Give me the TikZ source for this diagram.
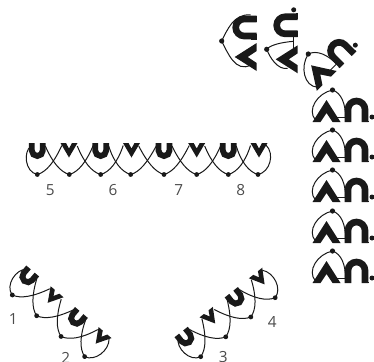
\documentclass[tikz,border=0pt]{standalone}
\usepackage{fontspec}
\setmainfont{Open Sans}
\tikzset{
  x=0.75pt,y=-0.75pt,
  wire/.style={draw=black!90,line width=0.75pt},
  blob/.style={fill=black!90,draw=none},
  heavy/.style={fill=black!90,draw=none},
  bowstroke/.style={draw=black!90,line width=4.4pt,line cap=butt},
  num/.style={text=black!70,font=\fontsize{11.5pt}{12pt}\selectfont,inner sep=0pt}
}
% large chevron, foot line at y=32, centred on x
\newcommand{\BigChev}[1]{%
  \fill[heavy] (#1-14,32) -- (#1,10) -- (#1+14,32) -- (#1+6,32) -- (#1,23) -- (#1-6,32) -- cycle;}
% large arch, foot line at y=32, centred on x
\newcommand{\BigArch}[1]{%
  \draw[bowstroke,line width=5pt] (#1-8.5,32) -- (#1-8.5,19.5) arc[start angle=180,end angle=360,radius=8.5] -- (#1+8.5,32);
  \fill[heavy] (#1-12,30.6) rectangle (#1-6,32);
  \fill[heavy] (#1+6,30.6) rectangle (#1+12,32);}
% whole right-column figure, origin at the top dot
\newcommand{\BigFig}[1]{%
  \BigChev{-6}\BigArch{24}
  \coordinate (dotA) at (0,0);
  \coordinate (legL) at (-17,30);
  \coordinate (legR) at (13,27);
  \draw[wire] (dotA) .. controls (-15,3) and (-26,20) .. (legL);
  \draw[wire] (dotA) .. controls (9,3) and (13,14) .. (legR);
  \draw[wire] (3,27) -- (legR);
  \fill[blob] (dotA) circle (2.6);
  #1}
\newcommand{\SmallDot}{\fill[blob] (39.5,27) circle (2.5);}
% small letters of the chain
\newcommand{\SmallU}[1]{%
  \draw[bowstroke,line width=4.4pt] (#1-5.5,143) -- (#1-5.5,150.5) arc[start angle=180,end angle=0,radius=5.5] -- (#1+5.5,143);}
\newcommand{\SmallV}[1]{%
  \fill[heavy] (#1-8.5,143) -- (#1-3,143) -- (#1,148.5) -- (#1+3,143) -- (#1+8.5,143) -- (#1,157.5) -- cycle;}
% one crossing: dot at first x, second x is the next dot
\newcommand{\CrossPair}[2]{%
  \coordinate (pL) at (#1,174.5);
  \coordinate (pR) at (#2,174.5);
  \draw[wire] (pL) .. controls (#1+9,172) and (#1+17,162) .. (#2-7.5,145.5);
  \draw[wire] (pR) .. controls (#2-9,172) and (#2-17,162) .. (#1+8,146);}
\newcommand{\DotAt}[1]{\fill[blob] (#1,174.5) circle (2.4);}
% chain of four pairs with closing loops; x-origin = first dot
\newcommand{\ChainFour}{%
  \SmallU{0}\SmallV{32}\SmallU{64}\SmallV{95}
  \CrossPair{0}{32}\CrossPair{32}{64}\CrossPair{64}{95}
  \coordinate (d1) at (0,174.5);
  \coordinate (d4) at (95,174.5);
  \draw[wire] (d1) .. controls (-12,172) and (-14,152) .. (-6,146);
  \draw[wire] (d4) .. controls (106,172) and (110,154) .. (102,145);
  \foreach \q in {0,32,64,95}{\DotAt{\q}}}
% chain of eight
\newcommand{\ChainEight}{%
  \SmallU{37.3}\SmallV{69}\SmallU{100.7}\SmallV{131.5}\SmallU{164}\SmallV{196.7}\SmallU{228.3}\SmallV{259}
  \CrossPair{37.3}{69.3}\CrossPair{69.3}{100.7}\CrossPair{100.7}{130.7}\CrossPair{130.7}{164}
  \CrossPair{164}{196.7}\CrossPair{196.7}{228.3}\CrossPair{228.3}{258}
  \coordinate (e1) at (37.3,174.5);
  \coordinate (e8) at (258,174.5);
  \draw[wire] (e1) .. controls (25,172) and (23,152) .. (31,146);
  \draw[wire] (e8) .. controls (270,172) and (275,154) .. (266,145);
  \foreach \q in {37.3,69.3,100.7,130.7,164,196.7,228.3,258}{\DotAt{\q}}}
\begin{document}
\begin{tikzpicture}
\useasboundingbox (0,0) rectangle (374,361);
\fill[white] (0,0) rectangle (374,361);

% top curved figures
\begin{scope}[shift={(221.7,41)},rotate=90]
  \begin{scope}[shift={(0,3)}]\BigChev{-16}\BigArch{13.5}\end{scope}
  \coordinate (gA) at (0,0);
  \coordinate (gB) at (-24,29);
  \coordinate (gC) at (26,29);
  \draw[wire] (gA) .. controls (10,5) and (28,12) .. (gC);
  \draw[wire] (gA) .. controls (-12,6) and (-32,14) .. (gB);
  \draw[wire] (2,35) -- (2,29);
  \fill[blob] (gA) circle (2.6);
\end{scope}
\begin{scope}[shift={(266.7,49.3)},rotate=90]
  \begin{scope}[shift={(0,-1)}]\BigChev{-10}\BigArch{24}\end{scope}
  \coordinate (hA) at (0,0);
  \coordinate (hB) at (-19,21);
  \coordinate (hC) at (8,27);
  \draw[wire] (hA) .. controls (-8,3) and (-21,11) .. (hB);
  \draw[wire] (hA) .. controls (4,3) and (7,14) .. (hC);
  \draw[wire] (14,27) -- (-2,27);
  \fill[blob] (hA) circle (2.6);
  \SmallDot
\end{scope}
\begin{scope}[shift={(308.3,54)},rotate=45]
  \BigFig{\SmallDot}
\end{scope}

% right column
\foreach \rowy in {90,130,170,211,251}{
  \begin{scope}[shift={(332.5,\rowy)}]
    \BigFig{\SmallDot}
  \end{scope}}

% horizontal chain
\ChainEight
\node[num] (five) at (50.3,190) {5};
\node[num] (six) at (113,190) {6};
\node[num] (seven) at (178.7,190) {7};
\node[num] (eight) at (240.7,190) {8};

% lower-left chain
\begin{scope}[shift={(12.3,295)},rotate=-40.4,yshift=130.875pt]
  \ChainFour
\end{scope}
\node[num] (one) at (13.3,319.3) {1};
\node[num] (two) at (65.7,357.5) {2};

% lower-right chain
\begin{scope}[shift={(200.7,356.7)},rotate=38.4,yshift=130.875pt]
  \ChainFour
\end{scope}
\node[num] (three) at (223.3,357.5) {3};
\node[num] (four) at (272.3,322.3) {4};
\end{tikzpicture}
\end{document}
